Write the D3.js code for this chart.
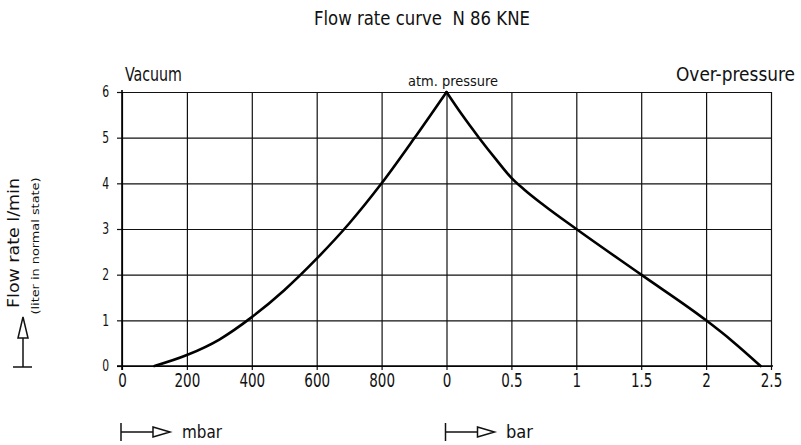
<!DOCTYPE html>
<html><head><meta charset="utf-8">
<script src="https://cdn.jsdelivr.net/npm/d3@7"></script>
<style>body{margin:0;background:#fff}</style>
</head><body>
<svg id="c" width="801" height="445"></svg>
<script>
// ---- data ----
const vacuumTicks = [0, 200, 400, 600, 800];
const overTicks = [0, 0.5, 1, 1.5, 2, 2.5];
const overTickLabels = ["0", "0.5", "1", "1.5", "2", "2.5"];
const flowTicks = [0, 1, 2, 3, 4, 5, 6];
const vacuumMbar = [100, 200, 300, 400, 500, 600, 700, 800, 900, 1000];
const vacuumFlow = [0, 0.24, 0.58, 1.07, 1.66, 2.35, 3.12, 4.0, 4.98, 6.0];
const overBar = [0, 0.12, 0.25, 0.38, 0.5, 0.6, 0.75, 1.0, 1.5, 2.0, 2.2, 2.42];
const overFlow = [6.0, 5.5, 5.0, 4.53, 4.12, 3.86, 3.52, 3.0, 2.0, 1.0, 0.55, 0];

const svg = d3.select('#c');
const F = '"DejaVu Sans Condensed","DejaVu Sans",sans-serif';
const pL = 122, pR = 771, pT = 92, pB = 366;
const xVac = d3.scaleLinear().domain([0, 1000]).range([pL, 446.5]);
const xOver = d3.scaleLinear().domain([0, 2.5]).range([446.5, pR]);
const y = d3.scaleLinear().domain([0, 6]).range([pB, pT]);

function clean(g){ g.select('.domain').remove(); g.selectAll('line').attr('stroke','#111').attr('stroke-width',1.2); }
function narrow(sel, f){
  sel.each(function(){
    const w = this.getComputedTextLength();
    d3.select(this).attr('textLength', w*f).attr('lengthAdjust','spacingAndGlyphs');
  });
}

// grid
svg.append('g').attr('transform',`translate(0,${pB})`)
  .call(d3.axisBottom(xVac).tickValues(vacuumTicks).tickSize(-(pB-pT)).tickFormat('')).call(clean);
svg.append('g').attr('transform',`translate(0,${pB})`)
  .call(d3.axisBottom(xOver).tickValues(overTicks).tickSize(-(pB-pT)).tickFormat('')).call(clean);
svg.append('g').attr('transform',`translate(${pL},0)`)
  .call(d3.axisLeft(y).tickValues(flowTicks).tickSize(-(pR-pL)).tickFormat('')).call(clean);

// labelled axes
function styleTicks(g, fs, f){
  g.select('.domain').remove();
  g.selectAll('line').attr('stroke','#111').attr('stroke-width',1.2);
  g.selectAll('text').attr('font-family',F).attr('font-size',fs).attr('fill','#111').attr('font-weight',300);
  narrow(g.selectAll('text'), f);
}
svg.append('g').attr('transform',`translate(0,${pB})`)
  .call(d3.axisBottom(xVac).tickValues(vacuumTicks).tickSize(4).tickPadding(3).tickFormat(d3.format('d')))
  .call(g=>styleTicks(g,20,0.75));
svg.append('g').attr('transform',`translate(0,${pB})`)
  .call(d3.axisBottom(xOver).tickValues(overTicks).tickSize(4).tickPadding(3).tickFormat((d,i)=>overTickLabels[i]))
  .call(g=>styleTicks(g,20,0.75));
svg.append('g').attr('transform',`translate(${pL},0)`)
  .call(d3.axisLeft(y).tickValues(flowTicks).tickSize(5).tickPadding(8).tickFormat(d3.format('d')))
  .call(g=>styleTicks(g,15,0.8));

// axis lines
svg.append('line').attr('x1',pL).attr('x2',pL).attr('y1',pT-2).attr('y2',pB+4).attr('stroke','#000').attr('stroke-width',1.6);
svg.append('line').attr('x1',pL-5).attr('x2',pR+2).attr('y1',pB).attr('y2',pB).attr('stroke','#000').attr('stroke-width',1.6);

// curve
const line = d3.line().curve(d3.curveMonotoneX);
svg.append('path')
  .attr('d', line(vacuumMbar.map((m,i)=>[xVac(m), y(vacuumFlow[i])])))
  .attr('fill','none').attr('stroke','#000').attr('stroke-width',2.6).attr('stroke-linecap','round');
svg.append('path')
  .attr('d', line(overBar.map((b,i)=>[xOver(b), y(overFlow[i])])))
  .attr('fill','none').attr('stroke','#000').attr('stroke-width',2.6).attr('stroke-linecap','round');

// texts
function txt(x, yy, s, fs, len, anchor){
  const t = svg.append('text').attr('x',x).attr('y',yy).text(s)
    .attr('font-family',F).attr('font-size',fs).attr('fill','#111').attr('font-weight',300).attr('text-anchor',anchor||'start');
  if(len) t.attr('textLength',len).attr('lengthAdjust','spacingAndGlyphs');
  return t;
}
txt(422, 25, 'Flow rate curve  N 86 KNE', 20, 216, 'middle').attr('xml:space','preserve');
txt(125, 81, 'Vacuum', 19, 57);
txt(408, 86, 'atm. pressure', 14, 90);
txt(676, 81, 'Over-pressure', 19, 119);
txt(182, 438, 'mbar', 17, 40);
txt(506, 438, 'bar', 17, 27);

svg.append('text').attr('transform','translate(19,243) rotate(-90)').text('Flow rate l/min')
  .attr('font-family',F).attr('font-size',16.5).attr('fill','#111').attr('font-weight',300).attr('text-anchor','middle')
  .attr('textLength',130).attr('lengthAdjust','spacingAndGlyphs');
svg.append('text').attr('transform','translate(39,246) rotate(-90)').text('(liter in normal state)')
  .attr('font-family',F).attr('font-size',11).attr('fill','#111').attr('font-weight',300).attr('text-anchor','middle')
  .attr('textLength',137).attr('lengthAdjust','spacingAndGlyphs');

// arrows
const deco = svg.append('g').attr('fill','none').attr('stroke','#111').attr('stroke-width',1.5);
function arrowRight(x0){
  deco.append('line').attr('x1',x0).attr('x2',x0).attr('y1',423).attr('y2',441);
  deco.append('line').attr('x1',x0).attr('x2',x0+32).attr('y1',432).attr('y2',432);
  deco.append('path').attr('d',`M${x0+32},427L${x0+49},432L${x0+32},437Z`);
}
arrowRight(xVac(0)-1);
arrowRight(xOver(0)-1);
deco.append('line').attr('x1',13).attr('x2',32).attr('y1',367).attr('y2',367);
deco.append('line').attr('x1',23).attr('x2',23).attr('y1',338).attr('y2',367);
deco.append('path').attr('d','M18,338L23,317L28,338Z');
</script>
</body></html>
